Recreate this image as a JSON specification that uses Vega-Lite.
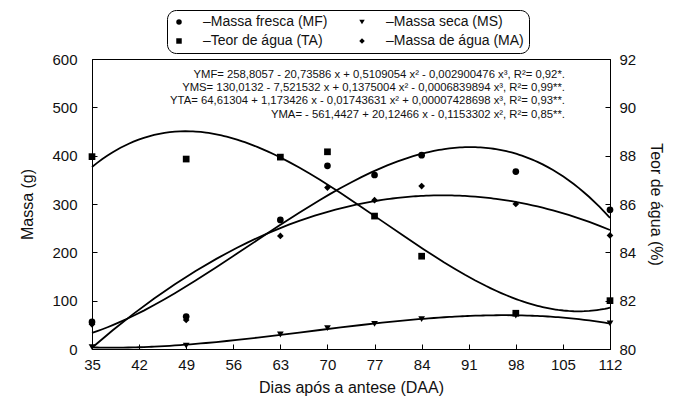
{
  "$schema": "https://vega.github.io/schema/vega-lite/v6.json",
  "width": 518,
  "height": 290,
  "autosize": "none",
  "padding": {"left": 92, "top": 59, "right": 66, "bottom": 53},
  "background": "white",
  "datasets": {
    "medidas": [
      {"dia": 35, "serie": "Massa fresca (MF)", "valor": 56},
      {"dia": 49, "serie": "Massa fresca (MF)", "valor": 67},
      {"dia": 63, "serie": "Massa fresca (MF)", "valor": 267},
      {"dia": 70, "serie": "Massa fresca (MF)", "valor": 379},
      {"dia": 77, "serie": "Massa fresca (MF)", "valor": 360},
      {"dia": 84, "serie": "Massa fresca (MF)", "valor": 401},
      {"dia": 98, "serie": "Massa fresca (MF)", "valor": 367},
      {"dia": 112, "serie": "Massa fresca (MF)", "valor": 288},
      {"dia": 35, "serie": "Massa seca (MS)", "valor": 4},
      {"dia": 49, "serie": "Massa seca (MS)", "valor": 7},
      {"dia": 63, "serie": "Massa seca (MS)", "valor": 30},
      {"dia": 70, "serie": "Massa seca (MS)", "valor": 43},
      {"dia": 77, "serie": "Massa seca (MS)", "valor": 52},
      {"dia": 84, "serie": "Massa seca (MS)", "valor": 62},
      {"dia": 98, "serie": "Massa seca (MS)", "valor": 69},
      {"dia": 112, "serie": "Massa seca (MS)", "valor": 53},
      {"dia": 35, "serie": "Massa de água (MA)", "valor": 51},
      {"dia": 49, "serie": "Massa de água (MA)", "valor": 60},
      {"dia": 63, "serie": "Massa de água (MA)", "valor": 234},
      {"dia": 70, "serie": "Massa de água (MA)", "valor": 334},
      {"dia": 77, "serie": "Massa de água (MA)", "valor": 308},
      {"dia": 84, "serie": "Massa de água (MA)", "valor": 337},
      {"dia": 98, "serie": "Massa de água (MA)", "valor": 300},
      {"dia": 112, "serie": "Massa de água (MA)", "valor": 235},
      {"dia": 35, "serie": "Teor de água (TA)", "valor": 87.96},
      {"dia": 49, "serie": "Teor de água (TA)", "valor": 87.86},
      {"dia": 63, "serie": "Teor de água (TA)", "valor": 87.94},
      {"dia": 70, "serie": "Teor de água (TA)", "valor": 88.16},
      {"dia": 77, "serie": "Teor de água (TA)", "valor": 85.5},
      {"dia": 84, "serie": "Teor de água (TA)", "valor": 83.84},
      {"dia": 98, "serie": "Teor de água (TA)", "valor": 81.48},
      {"dia": 112, "serie": "Teor de água (TA)", "valor": 82.0}
    ],
    "equacoes": [
      {"texto": "YMF= 258,8057 - 20,73586 x + 0,5109054 x² - 0,002900476 x³, R²= 0,92*.\nYMS= 130,0132 - 7,521532 x + 0,1375004 x² - 0,0006839894 x³, R²= 0,99**.\nYTA= 64,61304 + 1,173426 x - 0,01743631 x² + 0,00007428698 x³, R²= 0,93**.\nYMA= - 561,4427 + 20,12466 x - 0,1153302 x², R²= 0,85**."}
    ]
  },
  "data": {"name": "medidas"},
  "config": {
    "font": "Liberation Sans",
    "view": {"stroke": "black", "strokeWidth": 1},
    "axis": {
      "grid": false,
      "domainColor": "black",
      "tickColor": "black",
      "tickWidth": 1,
      "labelColor": "#111111",
      "titleColor": "#111111",
      "labelFontSize": 15,
      "titleFontSize": 16,
      "titleFontWeight": "normal",
      "tickSize": -5,
      "labelFlush": false,
      "labelBound": false
    },
    "legend": {
      "orient": "none",
      "legendX": 75,
      "legendY": -49,
      "columns": 2,
      "direction": "horizontal",
      "strokeColor": "black",
      "fillColor": "white",
      "cornerRadius": 9,
      "padding": 5,
      "labelFontSize": 14,
      "labelColor": "#111111",
      "labelOffset": 17,
      "symbolSize": 30,
      "symbolFillColor": "black",
      "symbolStrokeColor": "black",
      "symbolStrokeWidth": 0,
      "columnPadding": 27,
      "rowPadding": 5
    }
  },
  "layer": [
    {
      "layer": [
        {
          "transform": [{"filter": "datum.serie !== 'Teor de água (TA)'"}],
          "mark": {"type": "point", "filled": true, "color": "black", "opacity": 1, "size": 45},
          "encoding": {
            "x": {
              "field": "dia", "type": "quantitative",
              "scale": {"domain": [35, 112], "nice": false, "zero": false},
              "axis": {
                "title": "Dias após a antese (DAA)",
                "values": [35, 38.5, 42, 45.5, 49, 52.5, 56, 59.5, 63, 66.5, 70, 73.5, 77, 80.5, 84, 87.5, 91, 94.5, 98, 101.5, 105, 108.5, 112],
                "labelExpr": "abs((datum.value - 35) % 7) < 0.01 ? datum.label : ''",
                "tickSize": -5,
                "labelPadding": 13,
                "titlePadding": 7
              }
            },
            "y": {
              "field": "valor", "type": "quantitative",
              "scale": {"domain": [0, 600], "nice": false},
              "axis": {
                "title": "Massa (g)",
                "orient": "left",
                "values": [0, 100, 200, 300, 400, 500, 600],
                "tickSize": -5,
                "labelPadding": 20,
                "titlePadding": 16
              }
            },
            "shape": {
              "field": "serie", "type": "nominal",
              "scale": {
                "domain": ["Massa fresca (MF)", "Massa seca (MS)", "Teor de água (TA)", "Massa de água (MA)"],
                "range": ["circle", "triangle-down", "square", "diamond"]
              },
              "legend": {"title": null, "labelExpr": "'–' + datum.label", "direction": "horizontal", "columns": 2}
            }
          }
        },
        {
          "transform": [
            {"filter": "datum.serie === 'Massa fresca (MF)' || datum.serie === 'Massa seca (MS)'"},
            {"regression": "valor", "on": "dia", "groupby": ["serie"], "method": "poly", "order": 3, "extent": [35, 112]}
          ],
          "mark": {"type": "line", "color": "black", "strokeWidth": 1.8},
          "encoding": {
            "x": {"field": "dia", "type": "quantitative"},
            "y": {"field": "valor", "type": "quantitative"},
            "detail": {"field": "serie"}
          }
        },
        {
          "transform": [
            {"filter": "datum.serie === 'Massa de água (MA)'"},
            {"regression": "valor", "on": "dia", "method": "poly", "order": 2, "extent": [35, 112]}
          ],
          "mark": {"type": "line", "color": "black", "strokeWidth": 1.8},
          "encoding": {
            "x": {"field": "dia", "type": "quantitative"},
            "y": {"field": "valor", "type": "quantitative"}
          }
        },
        {
          "data": {"name": "equacoes"},
          "mark": {"type": "text", "align": "right", "baseline": "top", "fontSize": 11.3, "lineHeight": 13.3, "lineBreak": "\n", "color": "#111111"},
          "encoding": {
            "x": {"datum": 105.3, "type": "quantitative"},
            "y": {"datum": 580, "type": "quantitative"},
            "text": {"field": "texto"}
          }
        }
      ]
    },
    {
      "layer": [
        {
          "transform": [{"filter": "datum.serie === 'Teor de água (TA)'"}],
          "mark": {"type": "point", "filled": true, "color": "black", "opacity": 1, "size": 45},
          "encoding": {
            "x": {"field": "dia", "type": "quantitative"},
            "y": {
              "field": "valor", "type": "quantitative",
              "scale": {"domain": [80, 92], "nice": false, "zero": false},
              "axis": {
                "title": "Teor de água (%)",
                "orient": "right",
                "values": [80, 82, 84, 86, 88, 90, 92],
                "tickSize": -5,
                "labelPadding": 14,
                "titlePadding": 12
              }
            },
            "shape": {"field": "serie", "type": "nominal"}
          }
        },
        {
          "transform": [
            {"filter": "datum.serie === 'Teor de água (TA)'"},
            {"regression": "valor", "on": "dia", "method": "poly", "order": 3, "extent": [35, 112]}
          ],
          "mark": {"type": "line", "color": "black", "strokeWidth": 1.8},
          "encoding": {
            "x": {"field": "dia", "type": "quantitative"},
            "y": {"field": "valor", "type": "quantitative"}
          }
        }
      ]
    }
  ],
  "resolve": {"scale": {"y": "independent"}}
}
